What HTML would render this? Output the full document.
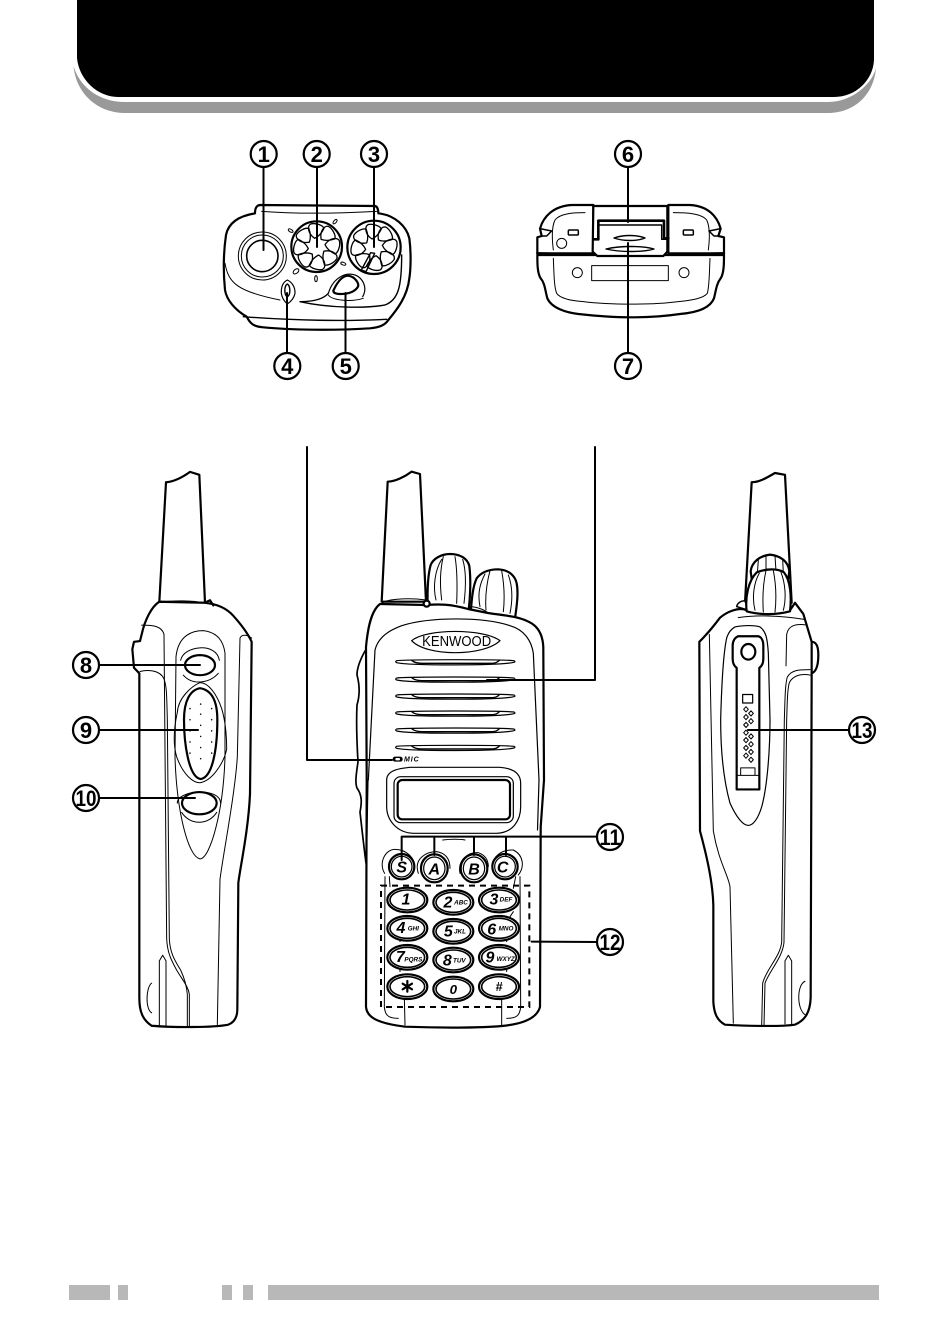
<!DOCTYPE html>
<html><head><meta charset="utf-8"><style>
html,body{margin:0;padding:0;background:#fff}
svg{display:block}
svg *{vector-effect:non-scaling-stroke}
.o{fill:none;stroke:#000;stroke-width:2.2;stroke-linejoin:round;stroke-linecap:round}
.w{fill:#fff;stroke:#000;stroke-width:2.2;stroke-linejoin:round}
.t{fill:none;stroke:#000;stroke-width:1;stroke-linecap:round;stroke-linejoin:round}
.tw{fill:#fff;stroke:#000;stroke-width:1}
.n{font:bold 22px "Liberation Sans",sans-serif;text-anchor:middle;fill:#000}
.k{font:italic bold 48px "Liberation Sans",sans-serif;fill:#000;text-anchor:middle}
.s{font:italic bold 19px "Liberation Sans",sans-serif;fill:#000;text-anchor:middle}
</style></head><body>
<svg width="950" height="1339" viewBox="0 0 950 1339" xmlns="http://www.w3.org/2000/svg">
<defs>
<path id="petal" class="t" style="stroke-width:1.3" d="M-6,-25C-28,-40-28,-62-18,-68C-5,-72 18,-65 22,-55C15,-40 5,-30-6,-25Z"/>
<g id="vent"><path class="t" style="stroke-width:1.2" d="M170,-3C200,-7 490,-7 522,-3C526,-1 526,1 522,2C480,12 210,12 170,3C166,1 166,-1 170,-3Z"/><path class="t" style="stroke-width:1.4" d="M215,-4Q225,5 245,5L455,5Q470,5 478,-4"/></g>
<g id="key"><ellipse class="w" cx="0" cy="0" rx="60" ry="37"/><ellipse class="t" style="stroke-width:1.6" cx="0" cy="0" rx="52" ry="30"/></g>
<path id="dia" class="t" d="M-7,0L0,-7L7,0L0,7Z"/>
<circle id="dot" r="2.2" cx="0" cy="0" fill="#000"/>
</defs>
<rect width="950" height="1339" fill="#fff"/>

<!-- header -->
<path fill="#999" d="M73.5,66C76,94 98,113 125,113L828,113C855,113 874,94 876,68C872,84 852,102 828,102L125,102C100,102 80,88 73.5,66Z"/>
<path fill="#000" d="M77,0L77,58C79,80 98,97 118,97L834,97C856,97 873,80 874,60L874,0Z"/>

<!-- footer -->
<g fill="#b8b8b8"><rect x="69" y="1285" width="41" height="15"/><rect x="118" y="1285" width="10" height="15"/><rect x="222" y="1285" width="10" height="15"/><rect x="243" y="1285" width="10" height="15"/><rect x="268" y="1285" width="611" height="15"/></g>

<!-- top view left -->
<g transform="translate(200,130) scale(.33333)">
<path class="w" d="M165,248C165,235 170,226 180,225L525,228C533,230 535,240 535,250C585,255 620,290 628,325C634,370 632,420 628,445C622,500 590,540 565,570C555,585 540,592 510,595C400,602 270,600 190,592C160,590 150,580 140,560C105,540 80,510 75,480C70,430 70,370 78,315C85,280 115,258 165,250Z"/>
<path class="t" d="M185,244C290,252 420,250 530,244"/>
<path class="t" d="M75,400C85,460 115,485 240,510"/>
<path class="t" style="stroke-width:1.4" d="M300,515C345,515 372,505 385,490M300,515C390,535 500,535 555,525C595,510 605,470 605,375"/>
<path class="t" style="stroke-width:1.4" d="M130,560C280,572 440,574 560,568"/>
<circle class="tw" cx="187" cy="378" r="72"/><circle class="t" cx="187" cy="378" r="63"/><circle class="t" style="stroke-width:1.6" cx="187" cy="378" r="47"/>
<circle class="w" cx="350" cy="350" r="76"/>
<g transform="translate(350,350)"><use href="#petal"/><use href="#petal" transform="rotate(45)"/><use href="#petal" transform="rotate(90)"/><use href="#petal" transform="rotate(135)"/><use href="#petal" transform="rotate(180)"/><use href="#petal" transform="rotate(225)"/><use href="#petal" transform="rotate(270)"/><use href="#petal" transform="rotate(315)"/></g>
<circle class="w" cx="522" cy="352" r="80"/>
<g transform="translate(522,352)"><use href="#petal"/><use href="#petal" transform="rotate(45)"/><use href="#petal" transform="rotate(90)"/><use href="#petal" transform="rotate(135)"/><use href="#petal" transform="rotate(180)"/><use href="#petal" transform="rotate(225)"/><use href="#petal" transform="rotate(270)"/><use href="#petal" transform="rotate(315)"/></g>
<path class="o" style="stroke-width:1.4" d="M512,368L484,420L498,425L524,370Z"/>
<g class="t" style="stroke-width:1"><ellipse cx="272" cy="302" rx="8" ry="4" transform="rotate(30 272 302)"/><ellipse cx="405" cy="275" rx="8" ry="4" transform="rotate(-50 405 275)"/><ellipse cx="288" cy="424" rx="10" ry="6" transform="rotate(-40 288 424)"/><ellipse cx="348" cy="446" rx="4" ry="9"/><ellipse cx="430" cy="401" rx="8" ry="4" transform="rotate(20 430 401)"/></g>
<path class="w" style="stroke-width:1.2" d="M262,450C250,456 243,470 244,490C246,505 254,515 262,522C272,515 282,505 285,490C286,470 275,456 262,450Z"/>
<path class="o" style="stroke-width:1.4" d="M262,462C252,468 252,495 262,500C272,495 272,468 262,462Z"/>
<path class="t" style="stroke-width:1.2" d="M385,490C400,440 445,420 475,440C495,455 500,480 488,500"/>
<path class="w" d="M400,482C410,460 425,437 445,437C465,440 478,460 474,470C465,485 445,492 420,492C408,492 400,490 400,482Z"/>
<path class="t" d="M385,495C395,510 450,518 490,505"/>
</g>
<g class="o" style="stroke-width:2">
<path d="M263.5,167V250M317,167V247M374,167V247M287,353V293M345.5,353V293"/>
</g>

<!-- top view right -->
<g transform="translate(510,130) scale(.33333)">
<path class="w" d="M82,375C82,400 82,430 92,445C105,460 105,480 112,505C125,535 170,548 205,552C260,558 310,562 360,562C420,562 470,558 510,552C560,548 600,535 612,505C618,480 620,460 632,445C642,430 642,400 642,375Z"/>
<path class="w" d="M82,370L82,322L95,318L90,296C100,260 130,228 185,225L250,225L250,370ZM642,370L642,322L625,318L632,296C622,260 595,228 540,225L475,225L475,370Z"/>
<path class="w" d="M250,228H472V365L460,378H262L248,365Z"/>
<path class="o" style="stroke-width:2.4" d="M82,370L240,374M482,374L642,370"/>
<path class="w" style="stroke-width:1.4" d="M250,328L265,328L265,285L455,285L455,328L472,328"/>
<path class="o" style="stroke-width:2.6" d="M252,328H265V272H462V325H475"/>
<path class="t" style="stroke-width:1.4" d="M312,324C340,314 380,314 405,324C380,334 340,334 312,324Z"/>
<path class="t" style="stroke-width:1.4" d="M288,357C330,347 400,347 432,357C400,367 330,367 288,357Z"/>
<rect class="o" style="stroke-width:1.5" x="175" y="300" width="30" height="15" rx="3"/><rect class="o" style="stroke-width:1.5" x="520" y="300" width="30" height="15" rx="3"/>
<circle class="t" cx="155" cy="340" r="15"/>
<path class="t" d="M130,360C125,320 125,290 135,270C150,250 190,248 225,248M595,360C600,320 600,290 590,270C575,250 530,248 490,248"/>
<path class="t" d="M130,385C132,430 132,470 140,490C150,505 180,512 220,515C300,525 430,525 505,515C550,510 580,505 592,490C598,470 598,430 600,385"/>
<rect class="t" x="245" y="407" width="230" height="45"/>
<circle class="t" cx="202" cy="428" r="15"/><circle class="t" cx="522" cy="428" r="15"/>
<path class="o" style="stroke-width:1.5" d="M90,296L125,303L110,318L95,318M632,296L597,303L612,318L625,318"/>
</g>
<path class="o" style="stroke-width:2" d="M628,167V222M628,243V353"/>

<!-- left side -->
<g transform="translate(60,460) scale(.33333,.371)">
<path class="w" d="M298,382L318,60C345,58 370,45 390,32L418,40L435,385Z"/>
<path class="t" d="M296,384C340,378 400,378 435,386"/>
<path class="w" d="M298,382C275,395 255,430 245,470L240,488L222,490L217,510L222,560L238,575L238,1450C238,1490 250,1510 275,1525C340,1530 460,1530 505,1522C525,1515 532,1500 532,1480L535,1140C540,1100 565,1000 570,900L575,490C560,460 530,430 520,420C500,400 470,388 435,385Z"/>
<path class="o" d="M436,384L450,378L460,392"/>
<path class="t" d="M245,445C270,445 305,445 312,470L320,1290C322,1330 335,1350 350,1375C370,1405 385,1420 388,1440L388,1528"/>
<path class="t" d="M240,570C260,565 300,565 312,590C320,610 320,630 322,700L328,1290C330,1330 345,1350 362,1375C375,1400 380,1420 382,1440L382,1528"/>
<path class="t" d="M575,480C560,470 545,470 540,480L532,800C525,900 490,1060 480,1130L472,1522"/>
<path class="t" d="M298,1525V1350L308,1335L318,1350V1525"/>
<path class="t" d="M275,1410C258,1420 255,1480 275,1490"/>
<path class="t" d="M348,530C355,470 400,460 430,460C475,465 490,490 495,520L495,800C490,950 450,1075 420,1075C385,1070 350,950 345,800Z"/>
<path class="t" d="M362,540C370,500 470,490 478,540M370,580C400,610 450,600 475,575"/>
<ellipse class="w" cx="420" cy="553" rx="45" ry="27"/>
<path class="t" d="M420,600C395,610 355,640 352,680C340,730 340,770 350,800C370,850 400,870 420,870C455,865 490,820 500,780C500,740 495,700 485,670C470,630 445,600 420,600Z"/>
<path class="o" d="M420,615C390,620 372,650 372,700C372,760 385,855 422,860C460,855 472,770 472,700C472,650 455,620 420,615Z"/>
<path class="t" d="M352,925C350,890 480,880 482,925M365,950C390,985 445,985 470,950"/>
<ellipse class="w" cx="418" cy="925" rx="52" ry="30"/>
<g>
<use href="#dot" x="422" y="658"/><use href="#dot" x="390" y="670"/><use href="#dot" x="455" y="670"/><use href="#dot" x="422" y="685"/><use href="#dot" x="390" y="700"/><use href="#dot" x="455" y="700"/><use href="#dot" x="422" y="715"/><use href="#dot" x="390" y="730"/><use href="#dot" x="455" y="730"/><use href="#dot" x="422" y="745"/><use href="#dot" x="390" y="760"/><use href="#dot" x="455" y="760"/><use href="#dot" x="422" y="775"/><use href="#dot" x="390" y="790"/><use href="#dot" x="455" y="790"/><use href="#dot" x="422" y="805"/>
</g>
</g>
<path class="o" style="stroke-width:2" d="M99,665H200M99,730H198M99,798H195"/>

<!-- center device -->
<g transform="translate(340,460) scale(.33333)">
<path class="w" d="M263,440C262,400 262,350 272,315C280,295 305,282 330,282C360,282 382,295 388,318C392,350 392,400 385,460Z"/>
<path class="t" d="M288,420C278,380 285,330 305,298M305,420C300,380 300,330 310,290M350,430C352,380 352,330 345,290M372,430C378,380 378,330 368,298"/>
<path class="w" d="M392,460C395,420 398,380 410,355C425,335 450,328 475,328C505,330 525,345 530,370C536,400 530,440 525,475Z"/>
<path class="t" d="M420,440C412,400 420,370 435,342M438,450C435,410 440,370 450,332M490,455C495,410 492,370 485,332M510,460C518,420 518,380 505,345"/>
<path class="w" d="M125,425L143,65C165,65 195,50 215,35L240,42L258,425Z"/>
<path class="t" d="M125,432C130,418 200,412 258,420"/>
</g>
<!-- body fill + outline in absolute coordinates -->
<path fill="#fff" d="M380,604C372,610 368,625 366,647L366,1007C367,1017 376,1023 405,1026.7C440,1028 480,1028 502,1026C523,1024 537,1018 540,1007L540.7,827L544,780L543.3,647C542.7,633 537,625 527,621C517,616 500,615 488,613L468,609C450,604 440,604 426,605Z"/>
<path class="o" d="M366,647L366.7,780L366,1007C367,1017 376,1023 405,1026.7C440,1028 480,1028 502,1026C523,1024 537,1018 540,1007L540.7,827L544,780L543.3,647C542.7,633 537,625 527,621C517,616 500,615 488,613L468,609C450,604 440,604 426,605L380,604C372,610 368,625 366,647"/>
<path class="o" style="stroke-width:1.7" d="M365,651C360,660 357,668 357,675C360,686 360,695 357,705C356,725 357,745 358,762C356,775 355,783 357,788C362,795 362,802 360,812C362,830 364,848 366,863"/>
<g transform="translate(340,460) scale(.33333)">
<circle class="w" cx="260" cy="431" r="9"/>
<path class="t" d="M385,447L395,440C415,442 435,450 445,460"/>
<path class="t" style="stroke-width:1.2" d="M85,960L105,570C115,530 150,510 185,497C270,470 430,470 510,497C555,510 575,545 580,580L597,960"/>
<path class="o" style="stroke-width:1.2" d="M215,542C260,505 430,505 480,542C430,590 260,590 215,542Z"/>
<text x="350" y="558" font-family="Liberation Sans, sans-serif" font-size="44" text-anchor="middle" textLength="207" lengthAdjust="spacingAndGlyphs" fill="#000">KENWOOD</text>
<use href="#vent" y="605"/><use href="#vent" y="657"/><use href="#vent" y="708"/><use href="#vent" y="759"/><use href="#vent" y="810"/><use href="#vent" y="862"/>
<rect x="158" y="890" width="30" height="15" rx="7" fill="#000"/><rect x="166" y="894" width="14" height="7" rx="3" fill="#fff"/>
<text x="192" y="904" font-family="Liberation Sans, sans-serif" font-size="21" font-weight="bold" font-style="italic" textLength="44" fill="#000">MIC</text>
</g>
<path class="t" style="stroke-width:1.2" d="M368,780L366.5,860M539,780L537.5,830"/>
<g transform="translate(350,760) scale(.33333)">
<path class="t" style="stroke-width:1.2" d="M110,60C110,30 150,25 180,22H450C490,25 512,40 512,70V140C512,180 490,218 440,220H190C140,218 110,180 110,140Z"/>
<rect class="t" style="stroke-width:1.2" x="132" y="50" width="358" height="138" rx="20"/>
<rect class="o" x="143" y="60" width="337" height="118" rx="14"/>
<path class="t" d="M278,240C300,237 330,237 345,240"/>
<path class="t" d="M105,350L103,740C105,770 120,775 145,775M510,350L512,740C510,770 495,775 470,775"/>
<path class="t" d="M118,350L120,380M150,535V545M150,625V635M497,350L490,385M470,535V545M470,625V635M490,455L480,470"/>
<path class="t" d="M163,710L165,795M455,710V795"/>
<g class="t"><path d="M104,340C85,310 105,268 135,268C170,268 195,295 193,320"/><path d="M205,340C190,295 230,275 260,275C290,280 300,300 300,325"/><path d="M330,340C322,300 355,275 385,278C405,285 415,300 415,320"/><path d="M430,320C425,290 455,268 490,270C520,285 525,320 505,345"/></g>
<g class="o"><ellipse class="w" cx="155" cy="320" rx="38" ry="38"/><ellipse class="t" style="stroke-width:1.2" cx="155" cy="320" rx="31" ry="31"/>
<ellipse class="w" cx="253" cy="325" rx="40" ry="42"/><ellipse class="t" style="stroke-width:1.2" cx="253" cy="325" rx="32" ry="34"/>
<ellipse class="w" cx="372" cy="325" rx="40" ry="42"/><ellipse class="t" style="stroke-width:1.2" cx="372" cy="325" rx="32" ry="34"/>
<ellipse class="w" cx="465" cy="320" rx="38" ry="38"/><ellipse class="t" style="stroke-width:1.2" cx="465" cy="320" rx="31" ry="31"/></g>
<path class="o" style="stroke-width:2" d="M155,300V230H742M253,285V230M372,285V230M468,285V230M545,545L742,546"/>
<text class="k" x="155" y="338">S</text><text class="k" x="253" y="343">A</text><text class="k" x="372" y="343">B</text><text class="k" x="458" y="338">C</text>
<path d="M93,377H538V741H93Z" fill="none" stroke="#000" stroke-width="2" stroke-dasharray="6 5"/>
<use href="#key" x="172" y="420"/><use href="#key" x="310" y="427"/><use href="#key" x="447" y="420"/>
<use href="#key" x="172" y="505"/><use href="#key" x="310" y="514"/><use href="#key" x="447" y="505"/>
<use href="#key" x="172" y="592"/><use href="#key" x="310" y="600"/><use href="#key" x="447" y="592"/>
<use href="#key" x="172" y="680"/><use href="#key" x="310" y="687"/><use href="#key" x="447" y="680"/>
<text class="k" x="168" y="434">1</text>
<text class="k" x="294" y="443">2</text><text class="s" x="333" y="434">ABC</text>
<text class="k" x="432" y="434">3</text><text class="s" x="468" y="425">DEF</text>
<text class="k" x="153" y="519">4</text><text class="s" x="190" y="512">GHI</text>
<text class="k" x="295" y="530">5</text><text class="s" x="330" y="520">JKL</text>
<text class="k" x="425" y="523">6</text><text class="s" x="468" y="512">MNO</text>
<text class="k" x="151" y="606">7</text><text class="s" x="190" y="605">PQRS</text>
<text class="k" x="292" y="616">8</text><text class="s" x="328" y="608">TUV</text>
<text class="k" x="420" y="608">9</text><text class="s" x="467" y="603">WXYZ</text>
<path class="o" d="M172,663V695M158,671L186,688M186,671L158,688"/>
<text class="k" x="310" y="702" style="font-size:40px">0</text>
<text class="k" x="447" y="693" style="font-size:38px">#</text>
</g>
<path class="o" style="stroke-width:2" d="M307,447V760H392M595,447V680H487"/>

<!-- right device -->
<g transform="translate(680,460) scale(.33333,.371)">
<path class="w" d="M195,385L215,60C240,60 265,45 285,35L315,40L335,385Z"/>
<path class="w" d="M212,300C215,275 240,258 270,255C300,258 325,272 328,300L325,320H215Z"/>
<path class="t" d="M235,270L232,305M258,258V300M285,258L288,300M308,268L310,305"/>
<path class="w" style="stroke-width:1.5" d="M170,395C172,385 185,378 195,380L205,405Z"/>
<path class="w" d="M58,490C75,475 95,455 120,425C140,410 175,395 200,405L330,405L345,385L370,415L395,490C410,490 415,505 415,525C415,550 410,570 395,575L392,1450C390,1490 375,1510 345,1522C300,1528 190,1525 135,1522C110,1510 102,1490 100,1460L100,1200C98,1130 75,1050 60,1000Z"/>
<path class="o" d="M395,490V575"/>
<path class="w" d="M200,408C195,370 205,325 230,303C260,292 295,292 312,303C332,325 335,370 330,408C290,418 240,418 200,408Z"/>
<path class="t" d="M225,405C215,370 222,330 238,305M250,410C247,370 250,330 258,298M285,410C290,370 287,330 280,298M310,405C320,370 315,330 303,303"/>
<path class="t" d="M175,425C220,418 300,418 375,430"/>
<path class="t" d="M88,470L100,1000C115,1080 145,1120 150,1150L160,1518"/>
<path class="t" d="M380,445C350,440 325,445 320,470L318,555M390,565C360,565 335,565 322,585C315,605 315,650 313,700L305,1300C300,1340 260,1370 248,1410L245,1525M392,580C365,575 340,580 328,600C322,620 322,650 320,700L312,1300C308,1340 270,1375 255,1410L252,1525"/>
<path class="t" d="M315,1520V1350L325,1335L335,1350V1520"/>
<path class="t" d="M375,1405C350,1415 350,1480 375,1495"/>
<path class="t" style="stroke-width:1.2" d="M165,450C190,445 225,445 240,450C258,462 262,480 265,520L270,700C270,780 262,880 245,935C235,965 220,985 205,985C190,985 170,965 150,925C130,860 122,780 122,700C125,600 130,520 140,480C145,465 155,455 165,450Z"/>
<path class="w" d="M175,475H235C245,478 250,488 250,500V535C250,550 245,556 238,560V888H170V560C163,556 158,550 158,535V500C158,488 165,478 175,475Z"/>
<circle class="o" cx="205" cy="517" r="21"/>
<rect class="o" style="stroke-width:1.2" x="188" y="632" width="30" height="23"/>
<use href="#dia" x="198" y="672"/><use href="#dia" x="213" y="683"/><use href="#dia" x="198" y="693"/><use href="#dia" x="213" y="704"/><use href="#dia" x="198" y="714"/><use href="#dia" x="213" y="745"/><use href="#dia" x="198" y="735"/><use href="#dia" x="198" y="755"/><use href="#dia" x="213" y="766"/><use href="#dia" x="198" y="776"/><use href="#dia" x="213" y="787"/><use href="#dia" x="198" y="797"/><use href="#dia" x="213" y="808"/>
<path class="t" d="M170,850H238M182,850V830H225V850"/>
</g>
<path class="o" style="stroke-width:2" d="M748,730H849"/>

<!-- numbered callouts -->
<g fill="#fff" stroke="#000" stroke-width="2.2">
<circle cx="263.7" cy="154" r="13"/><circle cx="316.7" cy="154" r="13"/><circle cx="374" cy="154" r="13"/>
<circle cx="287.3" cy="366" r="13"/><circle cx="345.7" cy="366" r="13"/>
<circle cx="628" cy="154" r="13"/><circle cx="628" cy="366" r="13"/>
<circle cx="86" cy="665" r="13"/><circle cx="86" cy="730" r="13"/><circle cx="86" cy="798" r="13"/>
<circle cx="610" cy="837" r="13"/><circle cx="610" cy="942" r="13"/><circle cx="862" cy="730" r="13"/>
</g>
<g>
<text class="n" x="263.7" y="162">1</text><text class="n" x="316.7" y="162">2</text><text class="n" x="374" y="162">3</text>
<text class="n" x="287.3" y="374">4</text><text class="n" x="345.7" y="374">5</text>
<text class="n" x="628" y="162">6</text><text class="n" x="628" y="374">7</text>
<text class="n" x="86" y="673">8</text><text class="n" x="86" y="738">9</text>
<text class="n" x="86" y="806" textLength="21" lengthAdjust="spacingAndGlyphs">10</text>
<text class="n" x="610" y="845" textLength="21" lengthAdjust="spacingAndGlyphs">11</text>
<text class="n" x="610" y="950" textLength="21" lengthAdjust="spacingAndGlyphs">12</text>
<text class="n" x="862" y="738" textLength="21" lengthAdjust="spacingAndGlyphs">13</text>
</g>
</svg>
</body></html>
